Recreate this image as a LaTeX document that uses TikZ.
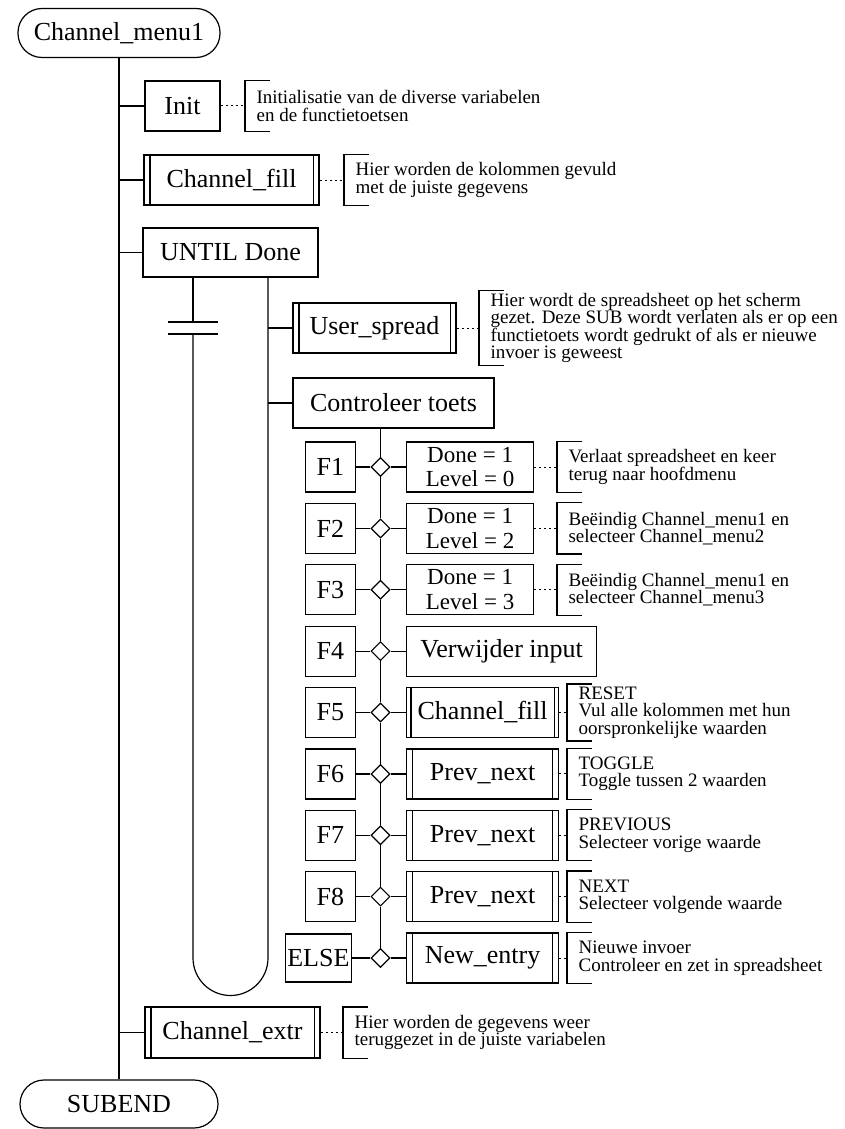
\documentclass[tikz,border=0pt]{standalone}
\usepackage{fontspec}
\setmainfont{Liberation Serif}
\usetikzlibrary{shapes.geometric}

\begin{document}
\begin{tikzpicture}[x=1pt, y=-1pt, line width=1.2pt,
  blok/.style={draw, minimum height=50pt, inner sep=2pt, align=center, font=\fontsize{26}{23}\selectfont},
  term/.style={blok, rounded corners=24pt, minimum width=202pt, minimum height=49pt},
  keybox/.style={blok, minimum width=50pt, anchor=east},
  act/.style={blok, anchor=west},
  twoline/.style={act, minimum width=127pt, inner ysep=0pt, font=\fontsize{23}{24.5}\selectfont},
  sel/.style={draw, diamond, fill=white, minimum width=19pt, minimum height=19pt, inner sep=0pt},
  note/.style={anchor=west, align=left, inner xsep=11pt, inner ysep=2pt, minimum height=50pt, font=\fontsize{19}{17.5}\selectfont},
  dotline/.style={dash pattern=on 2pt off 3pt, line width=1pt}]
\useasboundingbox (0,0) rectangle (845,1129);

\node[term] (start) at (119,33) {Channel\_menu1};
\node[blok, minimum width=75pt] (init) at (182.5,106) {Init};
\node[note] (ninit) at (245,106) {Initialisatie van de diverse variabelen\\en de functietoetsen};
\node[blok, minimum width=175pt] (fill) at (231.5,180) {Channel\_fill};
\node[note] (nfill) at (344,180) {Hier worden de kolommen gevuld\\met de juiste gegevens};
\node[blok, minimum width=175pt, minimum height=49pt] (until) at (230.5,252.5) {UNTIL Done};

\node[blok, minimum width=163pt] (user) at (374.5,328) {User\_spread};
\node[note, minimum height=73pt] (nuser) at (479,328) {Hier wordt de spreadsheet op het scherm\\gezet. Deze SUB wordt verlaten als er op een\\functietoets wordt gedrukt of als er nieuwe\\invoer is geweest};
\node[blok, minimum width=201pt] (ctrl) at (393.5,403) {Controleer toets};

% keuze F1 .. ELSE
\node[keybox] (f1) at (356,467) {F1};
\node[sel] (d1) at (380.5,467) {};
\node[twoline] (a1) at (406,467) {Done = 1\\Level = 0};
\node[note] (n1) at (557,467) {Verlaat spreadsheet en keer\\terug naar hoofdmenu};

\node[keybox] (f2) at (356,528.4) {F2};
\node[sel] (d2) at (380.5,528.4) {};
\node[twoline] (a2) at (406,528.4) {Done = 1\\Level = 2};
\node[note] (n2) at (557,528.4) {Beëindig Channel\_menu1 en\\selecteer Channel\_menu2};

\node[keybox] (f3) at (356,589.75) {F3};
\node[sel] (d3) at (380.5,589.75) {};
\node[twoline] (a3) at (406,589.75) {Done = 1\\Level = 3};
\node[note] (n3) at (557,589.75) {Beëindig Channel\_menu1 en\\selecteer Channel\_menu3};

\node[keybox] (f4) at (356,651.1) {F4};
\node[sel] (d4) at (380.5,651.1) {};
\node[act, minimum width=190pt] (a4) at (406,651.1) {Verwijder input};

\node[keybox] (f5) at (356,712.5) {F5};
\node[sel] (d5) at (380.5,712.5) {};
\node[act, minimum width=152pt] (a5) at (406,712.5) {Channel\_fill};
\node[note] (n5) at (567,712.5) {RESET\\Vul alle kolommen met hun\\oorspronkelijke waarden};

\node[keybox] (f6) at (356,773.9) {F6};
\node[sel] (d6) at (380.5,773.9) {};
\node[act, minimum width=152pt] (a6) at (406,773.9) {Prev\_next};
\node[note] (n6) at (567,773.9) {TOGGLE\\Toggle tussen 2 waarden};

\node[keybox] (f7) at (356,835.25) {F7};
\node[sel] (d7) at (380.5,835.25) {};
\node[act, minimum width=152pt] (a7) at (406,835.25) {Prev\_next};
\node[note] (n7) at (567,835.25) {PREVIOUS\\Selecteer vorige waarde};

\node[keybox] (f8) at (356,896.6) {F8};
\node[sel] (d8) at (380.5,896.6) {};
\node[act, minimum width=152pt] (a8) at (406,896.6) {Prev\_next};
\node[note] (n8) at (567,896.6) {NEXT\\Selecteer volgende waarde};

\node[keybox, minimum width=65pt, minimum height=48pt] (f9) at (352,958) {ELSE};
\node[sel] (d9) at (380.5,958) {};
\node[act, minimum width=152pt] (a9) at (406,958) {New\_entry};
\node[note] (n9) at (567,958) {Nieuwe invoer\\Controleer en zet in spreadsheet};

\node[blok, minimum width=175pt, minimum height=51pt] (extr) at (232.5,1032.5) {Channel\_extr};
\node[note] (nextr) at (343,1032.5) {Hier worden de gegevens weer\\teruggezet in de juiste variabelen};
\node[term, minimum width=198pt, minimum height=48pt] (end) at (119,1104) {SUBEND};

% SUB-blokken: dubbele zijlijnen
\draw ([xshift=6.5pt]fill.north west) -- ([xshift=6.5pt]fill.south west) ([xshift=-6.5pt]fill.north east) -- ([xshift=-6.5pt]fill.south east);
\draw ([xshift=6.5pt]user.north west) -- ([xshift=6.5pt]user.south west) ([xshift=-6.5pt]user.north east) -- ([xshift=-6.5pt]user.south east);
\draw ([xshift=5pt]a5.north west) -- ([xshift=5pt]a5.south west) ([xshift=-5pt]a5.north east) -- ([xshift=-5pt]a5.south east);
\draw ([xshift=6.5pt]a6.north west) -- ([xshift=6.5pt]a6.south west) ([xshift=-6.5pt]a6.north east) -- ([xshift=-6.5pt]a6.south east);
\draw ([xshift=6.5pt]a7.north west) -- ([xshift=6.5pt]a7.south west) ([xshift=-6.5pt]a7.north east) -- ([xshift=-6.5pt]a7.south east);
\draw ([xshift=6.5pt]a8.north west) -- ([xshift=6.5pt]a8.south west) ([xshift=-6.5pt]a8.north east) -- ([xshift=-6.5pt]a8.south east);
\draw ([xshift=6.5pt]a9.north west) -- ([xshift=6.5pt]a9.south west) ([xshift=-6.5pt]a9.north east) -- ([xshift=-6.5pt]a9.south east);
\draw ([xshift=6.5pt]extr.north west) -- ([xshift=6.5pt]extr.south west) ([xshift=-6.5pt]extr.north east) -- ([xshift=-6.5pt]extr.south east);

% hoofdlijn
\draw (start.south) -- (end.north);
\draw (init.west) -- (init.west -| start.south);
\draw (fill.west) -- (fill.west -| start.south);
\draw (until.west) -- (until.west -| start.south);
\draw (extr.west) -- (extr.west -| start.south);

% UNTIL lus
\coordinate (uL) at ([xshift=-37.5pt]until.south);
\coordinate (uR) at ([xshift=37.5pt]until.south);
\coordinate (brk) at (uL |- user.west);
\draw (uL) -- ([yshift=6pt]brk);
\draw ([xshift=-25pt,yshift=6pt]brk) -- ([xshift=25pt,yshift=6pt]brk);
\draw ([xshift=-25pt,yshift=-6pt]brk) -- ([xshift=25pt,yshift=-6pt]brk);
\draw ([yshift=-6pt]brk) -- (uL |- f9.east) arc[start angle=180, end angle=360, radius=37.5pt] -- (uR);
\draw (user.west) -- (user.west -| uR);
\draw (ctrl.west) -- (ctrl.west -| uR);

% keuzelijn
\draw (ctrl.south -| d1.north) -- (d1.north);
\draw (d1.south) -- (d2.north) (d2.south) -- (d3.north) (d3.south) -- (d4.north) (d4.south) -- (d5.north);
\draw (d5.south) -- (d6.north) (d6.south) -- (d7.north) (d7.south) -- (d8.north) (d8.south) -- (d9.north);
\draw (f1.east) -- (d1.west) (d1.east) -- (a1.west);
\draw (f2.east) -- (d2.west) (d2.east) -- (a2.west);
\draw (f3.east) -- (d3.west) (d3.east) -- (a3.west);
\draw (f4.east) -- (d4.west) (d4.east) -- (a4.west);
\draw (f5.east) -- (d5.west) (d5.east) -- (a5.west);
\draw (f6.east) -- (d6.west) (d6.east) -- (a6.west);
\draw (f7.east) -- (d7.west) (d7.east) -- (a7.west);
\draw (f8.east) -- (d8.west) (d8.east) -- (a8.west);
\draw (f9.east) -- (d9.west) (d9.east) -- (a9.west);

% commentaar
\draw[dotline] (init.east) -- (ninit.west);
\draw[dotline] (fill.east) -- (nfill.west);
\draw[dotline] (user.east) -- (nuser.west);
\draw[dotline] (a1.east) -- (n1.west);
\draw[dotline] (a2.east) -- (n2.west);
\draw[dotline] (a3.east) -- (n3.west);
\draw[dotline] (a5.east) -- (n5.west);
\draw[dotline] (a6.east) -- (n6.west);
\draw[dotline] (a7.east) -- (n7.west);
\draw[dotline] (a8.east) -- (n8.west);
\draw[dotline] (a9.east) -- (n9.west);
\draw[dotline] (extr.east) -- (nextr.west);
\foreach \n in {ninit,nfill,nuser,n1,n2,n3,n5,n6,n7,n8,n9,nextr}
  \draw ([xshift=25pt]\n.north west) -- (\n.north west) -- (\n.south west) -- ([xshift=25pt]\n.south west);
\end{tikzpicture}
\end{document}
